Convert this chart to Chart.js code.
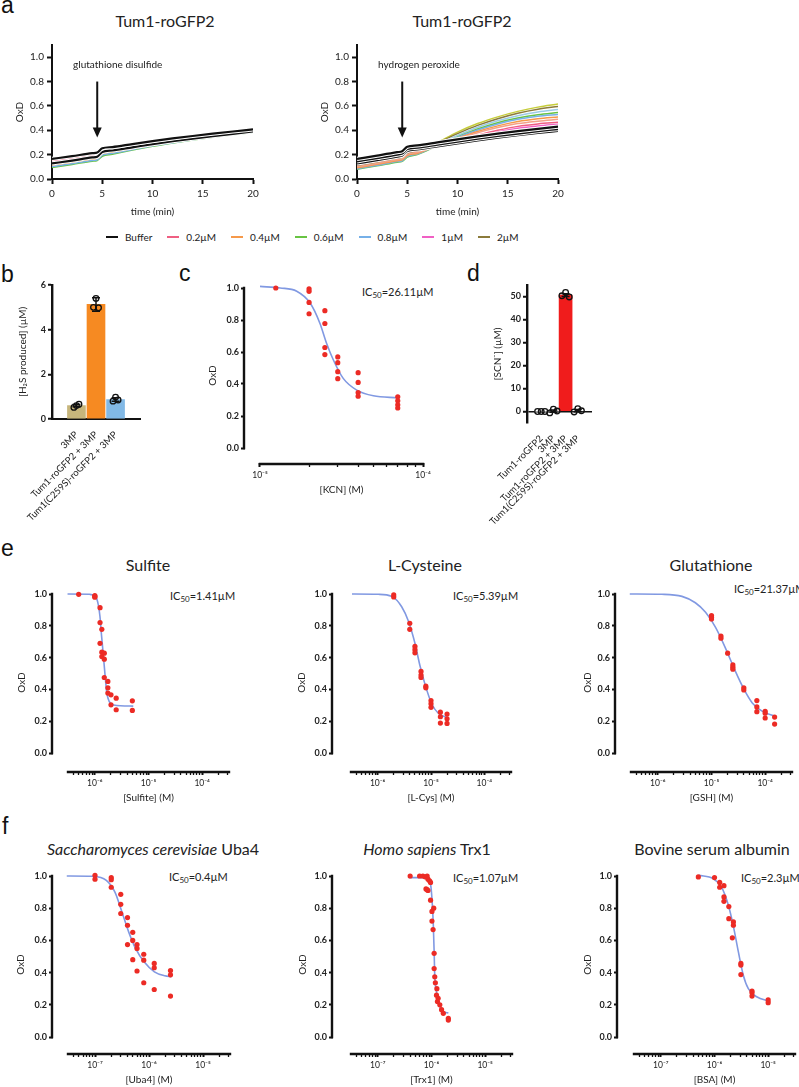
<!DOCTYPE html>
<html>
<head>
<meta charset="utf-8">
<title>Tum1-roGFP2 figure</title>
<script src="https://cdn.jsdelivr.net/npm/chart.js@4.4.1/dist/chart.umd.min.js"></script>
<style>
html, body { margin: 0; padding: 0; background: #fff; }
#page { position: relative; width: 799px; height: 1087px; overflow: hidden; font-family: Lato, "Open Sans", sans-serif; color: #222; }
#page canvas { position: absolute; }
.txt { position: absolute; white-space: nowrap; line-height: 1; }
.letter { font-family: "Liberation Sans", Arial, sans-serif; font-size: 23px; color: #111; }
.title { font-size: 16px; transform: translate(-50%, -50%); }
.ic50 { font-size: 11px; transform: translateY(-50%); }
.ic50 sub { font-size: 8px; vertical-align: -2px; }
#legend { position: absolute; left: 106px; top: 231px; display: flex; gap: 15px; font-size: 10px; align-items: center; line-height: 12px; }
#legend span { display: flex; align-items: center; }
#legend i { display: inline-block; width: 12px; height: 2.5px; margin-right: 7px; }
</style>
</head>
<body>
<div id="page">
  <div class="txt letter" style="left:1px; top:-6px;">a</div>
  <div class="txt letter" style="left:1px; top:263px;">b</div>
  <div class="txt letter" style="left:179px; top:262px;">c</div>
  <div class="txt letter" style="left:467px; top:262px;">d</div>
  <div class="txt letter" style="left:1px; top:537px;">e</div>
  <div class="txt letter" style="left:2px; top:815px;">f</div>

  <div class="txt title" style="left:165px; top:21px;">Tum1-roGFP2</div>
  <div class="txt title" style="left:462px; top:21px;">Tum1-roGFP2</div>
  <div class="txt title" style="left:148px; top:565px;">Sulfite</div>
  <div class="txt title" style="left:425px; top:565px;">L-Cysteine</div>
  <div class="txt title" style="left:711px; top:565px;">Glutathione</div>
  <div class="txt title" style="left:153px; top:849px;"><i>Saccharomyces cerevisiae</i> Uba4</div>
  <div class="txt title" style="left:427px; top:849px;"><i>Homo sapiens</i> Trx1</div>
  <div class="txt title" style="left:712px; top:849px;">Bovine serum albumin</div>

  <div class="txt ic50" style="left:362px; top:292px;">IC<sub>50</sub>=26.11µM</div>
  <div class="txt ic50" style="left:170px; top:596px;">IC<sub>50</sub>=1.41µM</div>
  <div class="txt ic50" style="left:453px; top:596px;">IC<sub>50</sub>=5.39µM</div>
  <div class="txt ic50" style="left:734px; top:589px;">IC<sub>50</sub>=21.37µM</div>
  <div class="txt ic50" style="left:169px; top:877px;">IC<sub>50</sub>=0.4µM</div>
  <div class="txt ic50" style="left:453px; top:878px;">IC<sub>50</sub>=1.07µM</div>
  <div class="txt ic50" style="left:741px; top:878px;">IC<sub>50</sub>=2.3µM</div>

  <div id="legend"></div>
</div>
<script>
// ---------- panel a: OxD time courses ----------
const timeMin = [0, 2, 4, 4.5, 5, 6, 8, 10, 12, 14, 16, 18, 20];
const timeTicks = [0, 5, 10, 15, 20];
const oxdTicks = [0, 0.2, 0.4, 0.6, 0.8, 1.0];

// glutathione disulfide
const gssgBuffer1 = [0.165, 0.188, 0.212, 0.218, 0.252, 0.262, 0.287, 0.311, 0.333, 0.353, 0.372, 0.390, 0.407];
const gssgBuffer2 = [0.128, 0.151, 0.177, 0.183, 0.222, 0.234, 0.260, 0.286, 0.310, 0.332, 0.352, 0.371, 0.390];
const gssgSalmon = [0.158, 0.180, 0.205, 0.211, 0.246, 0.256, 0.282, 0.306, 0.329, 0.349, 0.368, 0.386, 0.404];
const gssg02 = [0.150, 0.172, 0.197, 0.203, 0.240, 0.250, 0.276, 0.301, 0.324, 0.345, 0.364, 0.382, 0.400];
const gssg04 = [0.115, 0.138, 0.164, 0.170, 0.208, 0.221, 0.250, 0.278, 0.303, 0.326, 0.347, 0.367, 0.386];
const gssg06 = [0.095, 0.119, 0.146, 0.152, 0.187, 0.203, 0.237, 0.268, 0.295, 0.320, 0.342, 0.363, 0.383];
const gssg08 = [0.102, 0.125, 0.152, 0.158, 0.196, 0.211, 0.243, 0.272, 0.298, 0.322, 0.344, 0.365, 0.384];
const gssg1 = [0.138, 0.160, 0.186, 0.192, 0.230, 0.241, 0.268, 0.294, 0.318, 0.339, 0.359, 0.378, 0.396];
const gssg2 = [0.120, 0.143, 0.169, 0.175, 0.213, 0.225, 0.253, 0.281, 0.306, 0.328, 0.349, 0.369, 0.388];

// hydrogen peroxide
const h2o2Buffer1 = [0.165, 0.192, 0.220, 0.228, 0.265, 0.276, 0.300, 0.325, 0.350, 0.372, 0.393, 0.412, 0.430];
const h2o2Buffer2 = [0.145, 0.172, 0.200, 0.208, 0.246, 0.257, 0.282, 0.307, 0.331, 0.353, 0.373, 0.392, 0.410];
const h2o2Buffer3 = [0.128, 0.155, 0.184, 0.192, 0.230, 0.242, 0.268, 0.293, 0.317, 0.339, 0.359, 0.378, 0.395];
const h2o2Lime = [0.100, 0.128, 0.158, 0.165, 0.200, 0.222, 0.300, 0.385, 0.455, 0.510, 0.555, 0.590, 0.615];
const h2o2_2 = [0.110, 0.138, 0.168, 0.175, 0.210, 0.230, 0.295, 0.372, 0.440, 0.495, 0.540, 0.573, 0.595];
const h2o2_08a = [0.090, 0.118, 0.148, 0.155, 0.190, 0.210, 0.283, 0.358, 0.425, 0.478, 0.520, 0.550, 0.570];
const h2o2_06 = [0.080, 0.108, 0.138, 0.145, 0.180, 0.200, 0.273, 0.345, 0.410, 0.462, 0.500, 0.527, 0.545];
const h2o2_08b = [0.085, 0.113, 0.143, 0.150, 0.185, 0.205, 0.276, 0.342, 0.402, 0.452, 0.490, 0.515, 0.530];
const h2o2_04 = [0.092, 0.120, 0.150, 0.157, 0.192, 0.210, 0.274, 0.334, 0.390, 0.436, 0.472, 0.495, 0.510];
const h2o2Salmon = [0.100, 0.128, 0.158, 0.165, 0.200, 0.218, 0.275, 0.330, 0.380, 0.422, 0.455, 0.475, 0.490];
const h2o2_02 = [0.118, 0.146, 0.176, 0.183, 0.218, 0.233, 0.272, 0.315, 0.360, 0.400, 0.432, 0.452, 0.465];
const h2o2_1 = [0.130, 0.158, 0.188, 0.195, 0.230, 0.243, 0.275, 0.310, 0.350, 0.386, 0.416, 0.436, 0.450];

const legendNames = ['Buffer', '0.2µM', '0.4µM', '0.6µM', '0.8µM', '1µM', '2µM'];

// ---------- panel b: H2S ----------
const h2sLabels = ['3MP', 'Tum1-roGFP2 + 3MP', 'Tum1(C259S)-roGFP2 + 3MP'];
const h2sMean = [0.60, 5.13, 0.87];
const h2sErr = [0.05, 0.30, 0.08];
const h2sReps = [[0.52, 0.60, 0.66], [5.00, 5.40, 4.98], [0.80, 0.98, 0.85]];
const h2sTicks = [0, 2, 4, 6];

// ---------- panel c: KCN ----------
const kcnConc = [1.25e-5, 2e-5, 2e-5, 2e-5, 2e-5, 2.5e-5, 2.5e-5, 2.5e-5, 2.5e-5, 3e-5, 3e-5, 3e-5, 3e-5, 4e-5, 4e-5, 4e-5, 4e-5, 7e-5, 7e-5, 7e-5, 7e-5];
const kcnOxd = [1.0, 0.994, 0.979, 0.91, 0.839, 0.858, 0.778, 0.628, 0.584, 0.569, 0.533, 0.477, 0.433, 0.471, 0.41, 0.347, 0.324, 0.32, 0.295, 0.27, 0.25];
const kcnFitX = [1e-5, 1.33e-5, 1.68e-5, 2.03e-5, 2.33e-5, 2.56e-5, 2.82e-5, 3.24e-5, 3.92e-5, 4.96e-5, 7e-5];
const kcnFitY = [1.01, 1.0, 0.98, 0.906, 0.78, 0.655, 0.55, 0.435, 0.362, 0.326, 0.314];

// ---------- panel d: SCN ----------
const scnLabels = ['Tum1-roGFP2', '3MP', 'Tum1-roGFP2 + 3MP', 'Tum1(C259S)-roGFP2 + 3MP'];
const scnMean = [0, 0.2, 50.6, 0.4];
const scnErr = [0, 0.5, 0.6, 0.5];
const scnReps = [[0, 0, 0], [-0.6, 1.0, 0.2], [50.3, 51.8, 49.8], [-0.2, 1.2, 0.3]];
const scnTicks = [0, 10, 20, 30, 40, 50];

// ---------- panel e ----------
const sulfiteConc = [5e-7, 1e-6, 1e-6, 1e-6, 1.25e-6, 1.25e-6, 1.25e-6, 1.35e-6, 1.35e-6, 1.35e-6, 1.5e-6, 1.5e-6, 1.5e-6, 1.75e-6, 1.75e-6, 1.75e-6, 2e-6, 2e-6, 2.5e-6, 2.5e-6, 5e-6, 5e-6];
const sulfiteOxd = [0.998, 0.99, 0.98, 0.985, 0.914, 0.82, 0.69, 0.778, 0.634, 0.607, 0.628, 0.59, 0.475, 0.45, 0.41, 0.377, 0.366, 0.303, 0.345, 0.272, 0.328, 0.268];
const sulfiteFitX = [3.1e-7, 8e-7, 1.03e-6, 1.156e-6, 1.245e-6, 1.34e-6, 1.445e-6, 1.55e-6, 1.67e-6, 1.85e-6, 2.24e-6, 5.2e-6];
const sulfiteFitY = [1.0, 0.998, 0.985, 0.935, 0.86, 0.73, 0.61, 0.49, 0.38, 0.325, 0.302, 0.295];

const cysConc = [2e-6, 2e-6, 4e-6, 4e-6, 5e-6, 5e-6, 5e-6, 6.5e-6, 6.5e-6, 6.5e-6, 8e-6, 8e-6, 1e-5, 1e-5, 1e-5, 1.5e-5, 1.5e-5, 1.5e-5, 2e-5, 2e-5, 2e-5];
const cysOxd = [0.994, 0.981, 0.816, 0.778, 0.67, 0.65, 0.63, 0.513, 0.49, 0.475, 0.42, 0.41, 0.33, 0.31, 0.287, 0.257, 0.228, 0.188, 0.245, 0.215, 0.186];
const cysFitX = [3.3e-7, 1.03e-6, 1.83e-6, 2.82e-6, 3.76e-6, 5e-6, 6.2e-6, 7.75e-6, 1.03e-5, 1.37e-5, 2.1e-5];
const cysFitY = [1.0, 0.998, 0.985, 0.92, 0.83, 0.69, 0.55, 0.43, 0.31, 0.25, 0.22];

const gshConc = [5e-6, 1e-5, 1e-5, 1e-5, 1.5e-5, 1.5e-5, 2e-5, 2.5e-5, 2.5e-5, 2.5e-5, 4e-5, 4e-5, 7e-5, 7e-5, 7e-5, 1e-4, 1e-4, 1e-4, 1.5e-4, 1.5e-4];
const gshOxd = [1.03, 0.864, 0.854, 0.843, 0.736, 0.722, 0.628, 0.554, 0.54, 0.527, 0.41, 0.397, 0.33, 0.29, 0.26, 0.262, 0.25, 0.22, 0.226, 0.182];
const gshFitX = [3e-7, 1.19e-6, 2.82e-6, 5e-6, 7.75e-6, 1.19e-5, 1.82e-5, 2.82e-5, 4.04e-5, 5.75e-5, 8.9e-5, 1.51e-4];
const gshFitY = [1.0, 0.998, 0.985, 0.945, 0.885, 0.79, 0.66, 0.51, 0.40, 0.315, 0.262, 0.232];

// ---------- panel f ----------
const uba4Conc = [1e-7, 1e-7, 2e-7, 2e-7, 2e-7, 3e-7, 3e-7, 3e-7, 4e-7, 4e-7, 4e-7, 5e-7, 5e-7, 5e-7, 6e-7, 6e-7, 6e-7, 8e-7, 8e-7, 8e-7, 1.25e-6, 1.25e-6, 1.25e-6, 2.5e-6, 2.5e-6, 2.5e-6];
const uba4Oxd = [1.004, 0.98, 0.99, 0.977, 0.93, 0.886, 0.824, 0.767, 0.742, 0.694, 0.574, 0.65, 0.60, 0.48, 0.574, 0.55, 0.41, 0.514, 0.477, 0.337, 0.457, 0.43, 0.295, 0.413, 0.386, 0.254];
const uba4FitX = [3e-8, 9e-8, 1.62e-7, 2.34e-7, 3.15e-7, 4.2e-7, 5.63e-7, 8.1e-7, 1.26e-6, 1.96e-6, 2.6e-6];
const uba4FitY = [1.0, 0.998, 0.973, 0.90, 0.777, 0.653, 0.55, 0.467, 0.405, 0.38, 0.374];

const trx1Conc = [4e-7, 6e-7, 6.9e-7, 7.6e-7, 8.3e-7, 8.6e-7, 7.9e-7, 8.3e-7, 8.6e-7, 9.2e-7, 9.6e-7, 9.6e-7, 1.02e-6, 1.02e-6, 1.1e-6, 1.07e-6, 1.12e-6, 1.12e-6, 1.15e-6, 1.18e-6, 1.24e-6, 1.26e-6, 1.29e-6, 1.33e-6, 1.43e-6, 1.54e-6, 1.66e-6, 2.06e-6, 2.06e-6];
const trx1Oxd = [1.0, 1.0, 1.0, 0.995, 1.0, 0.98, 0.92, 0.915, 0.91, 0.97, 0.96, 0.85, 0.78, 0.72, 0.80, 0.667, 0.52, 0.425, 0.374, 0.337, 0.26, 0.30, 0.22, 0.24, 0.20, 0.17, 0.147, 0.116, 0.105];
const trx1FitX = [3.84e-7, 8.6e-7, 9.6e-7, 1.02e-6, 1.08e-6, 1.12e-6, 1.15e-6, 1.24e-6, 1.43e-6, 1.66e-6, 2.06e-6];
const trx1FitY = [0.99, 0.99, 0.95, 0.86, 0.70, 0.53, 0.38, 0.28, 0.19, 0.157, 0.15];

const bsaConc = [5e-7, 1e-6, 1.25e-6, 1.25e-6, 1.5e-6, 1.5e-6, 1.5e-6, 1.85e-6, 1.85e-6, 2.15e-6, 2.25e-6, 2.25e-6, 3.1e-6, 3.1e-6, 3.1e-6, 5e-6, 5e-6, 5e-6, 1e-5, 1e-5];
const bsaOxd = [0.994, 0.99, 0.96, 0.93, 0.94, 0.87, 0.843, 0.81, 0.735, 0.616, 0.715, 0.694, 0.457, 0.447, 0.388, 0.285, 0.275, 0.254, 0.23, 0.213];
const bsaFitX = [5.1e-7, 9.5e-7, 1.36e-6, 1.81e-6, 2.24e-6, 2.78e-6, 3.44e-6, 4.27e-6, 6.1e-6, 1.05e-5];
const bsaFitY = [1.004, 0.983, 0.93, 0.82, 0.69, 0.53, 0.384, 0.30, 0.25, 0.223];

// ---------- styling ----------
const INK = '#111';
const RED = '#ec2b25';
const FIT = '#8199e2';
const colBuffer = '#111111', col02 = '#ef5f82', col04 = '#f6994a', col06 = '#68c443', col08 = '#76b0e8', col1 = '#f060c4', col2 = '#8b7b3b';
const colLime = '#c6cd3a', colSalmon = '#f4a088';

Chart.defaults.font.family = 'Lato, "Open Sans", sans-serif';
Chart.defaults.color = '#222';
Chart.defaults.animation = false;
Chart.defaults.plugins.legend.display = false;
Chart.defaults.plugins.tooltip.enabled = false;

const page = document.getElementById('page');

// canvas placed so that its chart area lands on the wanted box
function addCanvas(area, wy, hx, top, right) {
    const c = document.createElement('canvas');
    c.width = area.r - area.l + wy + right;
    c.height = area.b - area.t + top + hx;
    c.style.left = (area.l - wy) + 'px';
    c.style.top = (area.t - top) + 'px';
    page.appendChild(c);
    return c;
}
const fixWidth = w => s => { s.width = w; s.paddingTop = 0; s.paddingBottom = 0; };
const fixHeight = h => s => { s.height = h; s.paddingLeft = 0; s.paddingRight = 0; };
const pts = (xs, ys) => xs.map((x, i) => ({ x: x, y: ys[i] }));

const SUP = { '-': '⁻', '0': '⁰', '1': '¹', '2': '²', '3': '³', '4': '⁴', '5': '⁵', '6': '⁶', '7': '⁷', '8': '⁸', '9': '⁹' };
const sup = s => String(s).split('').map(ch => SUP[ch]).join('');

// arrow + label drawn in data space
const arrowNote = {
    id: 'arrowNote',
    afterDatasetsDraw(chart, args, opts) {
        const { ctx, scales: { x, y } } = chart;
        const ax = x.getPixelForValue(opts.at);
        const y1 = y.getPixelForValue(opts.from);
        const y2 = y.getPixelForValue(opts.to);
        ctx.save();
        ctx.strokeStyle = INK;
        ctx.fillStyle = INK;
        ctx.lineWidth = 2;
        ctx.beginPath();
        ctx.moveTo(ax, y1);
        ctx.lineTo(ax, y2 - 8);
        ctx.stroke();
        ctx.beginPath();
        ctx.moveTo(ax - 4.5, y2 - 10);
        ctx.lineTo(ax + 4.5, y2 - 10);
        ctx.lineTo(ax, y2);
        ctx.closePath();
        ctx.fill();
        ctx.fillStyle = '#222';
        ctx.font = '10px Lato, "Open Sans", sans-serif';
        ctx.textBaseline = 'middle';
        ctx.fillText(opts.text, x.getPixelForValue(opts.textAt), y.getPixelForValue(opts.textY));
        ctx.restore();
    }
};

// GraphPad-style detached axes
const offsetAxes = {
    id: 'offsetAxes',
    afterDraw(chart, args, opts) {
        const { ctx, chartArea: ca, scales: { x, y } } = chart;
        const x0 = x.getPixelForValue(opts.xFrom);
        ctx.save();
        ctx.strokeStyle = INK;
        ctx.lineWidth = 2.4;
        ctx.beginPath();
        ctx.moveTo(ca.left - 1, y.getPixelForValue(0) + 1.2);
        ctx.lineTo(ca.left - 1, y.getPixelForValue(1) - 1.2);
        ctx.moveTo(x0 - 1.2, ca.bottom + 1);
        ctx.lineTo(ca.right + 1.2, ca.bottom + 1);
        ctx.stroke();
        ctx.fillStyle = '#222';
        ctx.font = '10px Lato, "Open Sans", sans-serif';
        ctx.textAlign = 'center';
        ctx.textBaseline = 'middle';
        ctx.fillText(opts.title, (x0 + ca.right) / 2, opts.titleY);
        ctx.restore();
    }
};

const errorBars = {
    id: 'errorBars',
    afterDatasetsDraw(chart) {
        const { ctx } = chart;
        const yScale = chart.scales.y;
        chart.data.datasets.forEach((ds, di) => {
            if (!ds.errors) return;
            chart.getDatasetMeta(di).data.forEach((bar, i) => {
                const e = ds.errors[i];
                if (!e) return;
                const v = ds.data[i].y;
                const top = yScale.getPixelForValue(v + e);
                const bot = yScale.getPixelForValue(v - e);
                ctx.save();
                ctx.strokeStyle = INK;
                ctx.lineWidth = 1.5;
                ctx.beginPath();
                ctx.moveTo(bar.x, top); ctx.lineTo(bar.x, bot);
                ctx.moveTo(bar.x - 4, top); ctx.lineTo(bar.x + 4, top);
                ctx.moveTo(bar.x - 4, bot); ctx.lineTo(bar.x + 4, bot);
                ctx.stroke();
                ctx.restore();
            });
        });
    }
};

// ---------- time course panels ----------
function timeCourse(area, traces, note) {
    const wy = area.l - area.yTitleX + 10, hx = area.xTitleY - area.b + 10;
    const canvas = addCanvas(area, wy, hx, 10, 12);
    const datasets = [];
    traces.forEach(tr => {
        const line = { data: pts(timeMin, tr[0]), borderColor: tr[1], borderWidth: tr[2], pointRadius: 0, cubicInterpolationMode: 'monotone', fill: false };
        datasets.push(line);
        if (tr[1] === colBuffer) {
            datasets.push(Object.assign({}, line, { borderColor: '#ffffff', borderWidth: tr[2] + 2 }));
        }
    });
    new Chart(canvas, {
        type: 'line',
        data: { datasets: datasets },
        options: {
            responsive: false,
            devicePixelRatio: 1,
            layout: { padding: { left: 0, top: 10, right: 12, bottom: 0 } },
            scales: {
                x: {
                    type: 'linear', min: 0, max: 20,
                    afterBuildTicks: s => { s.ticks = timeTicks.map(v => ({ value: v })); },
                    ticks: { padding: 4, font: { size: 10 }, maxRotation: 0, autoSkip: false },
                    grid: { drawOnChartArea: false, tickLength: 5, tickWidth: 2, tickColor: INK },
                    border: { color: INK, width: 2 },
                    title: { display: true, text: 'time (min)', font: { size: 10 }, padding: { top: 0, bottom: 4 } },
                    afterFit: fixHeight(hx)
                },
                y: {
                    min: 0, max: 1.1,
                    afterBuildTicks: s => { s.ticks = oxdTicks.map(v => ({ value: v })); },
                    ticks: { callback: v => v.toFixed(1), padding: 3, font: { size: 10 } },
                    grid: { drawOnChartArea: false, tickLength: 5, tickWidth: 2, tickColor: INK },
                    border: { color: INK, width: 2 },
                    title: { display: true, text: 'OxD', font: { size: 10 }, padding: { top: 4, bottom: 0 } },
                    afterFit: fixWidth(wy)
                }
            },
            plugins: { arrowNote: note }
        },
        plugins: [arrowNote]
    });
}

timeCourse({ l: 52, r: 253, t: 45, b: 179, yTitleX: 20, xTitleY: 212 }, [
    [gssgBuffer1, colBuffer, 2.2], [gssgBuffer2, colBuffer, 2.2],
    [gssgSalmon, colSalmon, 1.5], [gssg02, col02, 1.5], [gssg1, col1, 1.5], [gssg2, col2, 1.5],
    [gssg04, col04, 1.5], [gssg08, col08, 1.5], [gssg06, col06, 1.5]
], { at: 4.5, from: 0.80, to: 0.34, text: 'glutathione disulfide', textAt: 2.1, textY: 0.94 });

timeCourse({ l: 357, r: 558, t: 45, b: 179, yTitleX: 325, xTitleY: 212 }, [
    [h2o2Buffer1, colBuffer, 2.2], [h2o2Buffer2, colBuffer, 2.2], [h2o2Buffer3, colBuffer, 2.2],
    [h2o2_1, col1, 1.5], [h2o2_02, col02, 1.5], [h2o2Salmon, colSalmon, 1.5], [h2o2_04, col04, 1.5],
    [h2o2_08b, col08, 1.5], [h2o2_06, col06, 1.5], [h2o2_08a, '#9ccbe6', 1.5],
    [h2o2_2, col2, 1.5], [h2o2Lime, colLime, 1.5]
], { at: 4.5, from: 0.80, to: 0.34, text: 'hydrogen peroxide', textAt: 2.1, textY: 0.94 });

// legend
const legendColors = [colBuffer, col02, col04, col06, col08, col1, col2];
const legendBox = document.getElementById('legend');
legendNames.forEach((name, i) => {
    const item = document.createElement('span');
    item.innerHTML = '<i style="background:' + legendColors[i] + '"></i>' + name;
    legendBox.appendChild(item);
});

// ---------- bar panels ----------
function barChart(area, labels, mean, err, reps, colors, yTicks, yMin, yMax, yTitle, o) {
    const wy = area.l - area.yTitleX + 10;
    const canvas = addCanvas(area, wy, o.hx, 10, o.right);
    const reps2 = [];
    reps.forEach((r, i) => r.forEach((v, j) => reps2.push({ x: i + o.jitter[j], y: v })));
    new Chart(canvas, {
        data: {
            datasets: [
                { type: 'scatter', data: reps2, pointRadius: 2.8, pointBorderColor: INK, pointBorderWidth: 1.3, pointBackgroundColor: 'rgba(0,0,0,0)', clip: false },
                { type: 'bar', data: pts(labels.map((_, i) => i), mean), backgroundColor: colors, barThickness: o.barWidth, errors: err }
            ]
        },
        options: {
            responsive: false,
            devicePixelRatio: 1,
            layout: { padding: { left: 0, top: 10, right: o.right, bottom: 0 } },
            scales: {
                x: {
                    type: 'linear', min: -0.5, max: labels.length - 0.5,
                    afterBuildTicks: s => { s.ticks = labels.map((_, i) => ({ value: i })); },
                    ticks: { callback: v => labels[v], minRotation: 45, maxRotation: 45, autoSkip: false, font: { size: 9.5 }, padding: 2 },
                    grid: { display: false },
                    border: { display: o.xBorder, color: INK, width: 2 },
                    afterFit: fixHeight(o.hx)
                },
                y: {
                    min: yMin, max: yMax,
                    afterBuildTicks: s => { s.ticks = yTicks.map(v => ({ value: v })); },
                    ticks: { padding: 2, font: { size: 9, weight: 'bold' } },
                    grid: {
                        drawOnChartArea: o.zeroLine, tickLength: 4, tickWidth: 2, tickColor: INK,
                        color: c => (c.tick && c.tick.value === 0 ? INK : 'rgba(0,0,0,0)'), lineWidth: 1.5
                    },
                    border: { color: INK, width: 2.4 },
                    title: { display: true, text: yTitle, font: { size: 10 }, padding: { top: 4, bottom: 0 } },
                    afterFit: fixWidth(wy)
                }
            }
        },
        plugins: [errorBars]
    });
}

barChart({ l: 52, r: 140, t: 285, b: 419, yTitleX: 23 }, h2sLabels, h2sMean, h2sErr, h2sReps,
    ['#c7b67c', '#f68a22', '#82b9e6'], h2sTicks, 0, 6, '[H₂S produced] (µM)',
    { hx: 110, right: 8, barWidth: 18, jitter: [-0.13, 0, 0.13], zeroLine: false, xBorder: true });

barChart({ l: 527, r: 592, t: 285, b: 423, yTitleX: 498 }, scnLabels, scnMean, scnErr, scnReps,
    ['#ffffff', '#ffffff', '#f01c1c', '#ffffff'], scnTicks, -5, 55, '[SCN⁻] (µM)',
    { hx: 110, right: 8, barWidth: 13, jitter: [-0.3, 0, 0.3], zeroLine: true, xBorder: false });

// ---------- dose-response panels ----------
function doseChart(area, conc, oxd, fitX, fitY, xFrom, xTo, xTitle) {
    const wy = area.l - area.yTitleX + 10, hx = area.xTitleY - area.b + 14, top = 8, right = area.pad || 4;
    const canvas = addCanvas(area, wy, hx, top, right);
    const decade = (area.r - area.xStart) / (xTo - xFrom);
    const xMin = Math.pow(10, xFrom - (area.xStart - area.l) / decade);
    const yMin = -(area.b - area.y0) / (area.y0 - area.t);
    const logTicks = [];
    for (let n = Math.floor(xFrom); n <= Math.ceil(xTo); n++) {
        for (let m = 1; m <= 9; m++) {
            const lv = n + Math.log10(m);
            if (lv >= xFrom - 1e-6 && lv <= xTo + 1e-6) logTicks.push({ value: m * Math.pow(10, n), m: m, n: n });
        }
    }
    new Chart(canvas, {
        type: 'scatter',
        data: {
            datasets: [
                { data: pts(conc, oxd), pointRadius: 2.6, pointBackgroundColor: RED, pointBorderWidth: 0, clip: false },
                { data: pts(fitX, fitY), showLine: true, borderColor: FIT, borderWidth: 1.6, pointRadius: 0, cubicInterpolationMode: 'monotone', fill: false, clip: false }
            ]
        },
        options: {
            responsive: false,
            devicePixelRatio: 1,
            layout: { padding: { left: 0, top: top, right: right, bottom: 0 } },
            scales: {
                x: {
                    type: 'logarithmic', min: xMin, max: Math.pow(10, xTo), bounds: 'data',
                    afterBuildTicks: s => { s.ticks = logTicks.map(t => Object.assign({}, t)); },
                    ticks: {
                        autoSkip: false, maxRotation: 0, padding: 3, font: { size: 8.5 },
                        callback: (v, i, ticks) => (ticks[i].m === 1 ? '10' + sup(ticks[i].n) : '')
                    },
                    grid: { drawOnChartArea: false, tickLength: 4, tickColor: INK, tickWidth: c => (c.tick && c.tick.m === 1 ? 2 : 1.3) },
                    border: { display: false },
                    afterFit: fixHeight(hx)
                },
                y: {
                    min: yMin, max: 1,
                    afterBuildTicks: s => { s.ticks = oxdTicks.map(v => ({ value: v })); },
                    ticks: { callback: v => v.toFixed(1), padding: 2, font: { size: 9, weight: 'bold' } },
                    grid: { drawOnChartArea: false, tickLength: 4, tickWidth: 2, tickColor: INK },
                    border: { display: false },
                    title: { display: true, text: 'OxD', font: { size: 10 }, padding: { top: 4, bottom: 0 } },
                    afterFit: fixWidth(wy)
                }
            },
            plugins: { offsetAxes: { xFrom: Math.pow(10, xFrom), title: xTitle, titleY: area.xTitleY - (area.t - top) } }
        },
        plugins: [offsetAxes]
    });
}

doseChart({ l: 245, r: 423, t: 288, b: 463, y0: 448, xStart: 260, yTitleX: 213, xTitleY: 490, pad: 20 },
    kcnConc, kcnOxd, kcnFitX, kcnFitY, -5, -4, '[KCN] (M)');

doseChart({ l: 53, r: 229, t: 594, b: 771, y0: 753, xStart: 68, yTitleX: 22, xTitleY: 798 },
    sulfiteConc, sulfiteOxd, sulfiteFitX, sulfiteFitY, -6.5, -3.5, '[Sulfite] (M)');
doseChart({ l: 333, r: 511, t: 594, b: 771, y0: 753, xStart: 351, yTitleX: 302, xTitleY: 798 },
    cysConc, cysOxd, cysFitX, cysFitY, -6.5, -3.5, '[L-Cys] (M)');
doseChart({ l: 616, r: 792, t: 594, b: 771, y0: 753, xStart: 631, yTitleX: 588, xTitleY: 798 },
    gshConc, gshOxd, gshFitX, gshFitY, -6.5, -3.5, '[GSH] (M)');

doseChart({ l: 53, r: 230, t: 876, b: 1053, y0: 1037, xStart: 68, yTitleX: 21, xTitleY: 1080 },
    uba4Conc, uba4Oxd, uba4FitX, uba4FitY, -7.5, -4.5, '[Uba4] (M)');
doseChart({ l: 333, r: 512, t: 876, b: 1053, y0: 1037, xStart: 351, yTitleX: 303, xTitleY: 1080 },
    trx1Conc, trx1Oxd, trx1FitX, trx1FitY, -7.5, -4.5, '[Trx1] (M)');
doseChart({ l: 618, r: 795, t: 876, b: 1053, y0: 1037, xStart: 634, yTitleX: 588, xTitleY: 1080 },
    bsaConc, bsaOxd, bsaFitX, bsaFitY, -7.5, -4.5, '[BSA] (M)');
</script>
</body>
</html>
